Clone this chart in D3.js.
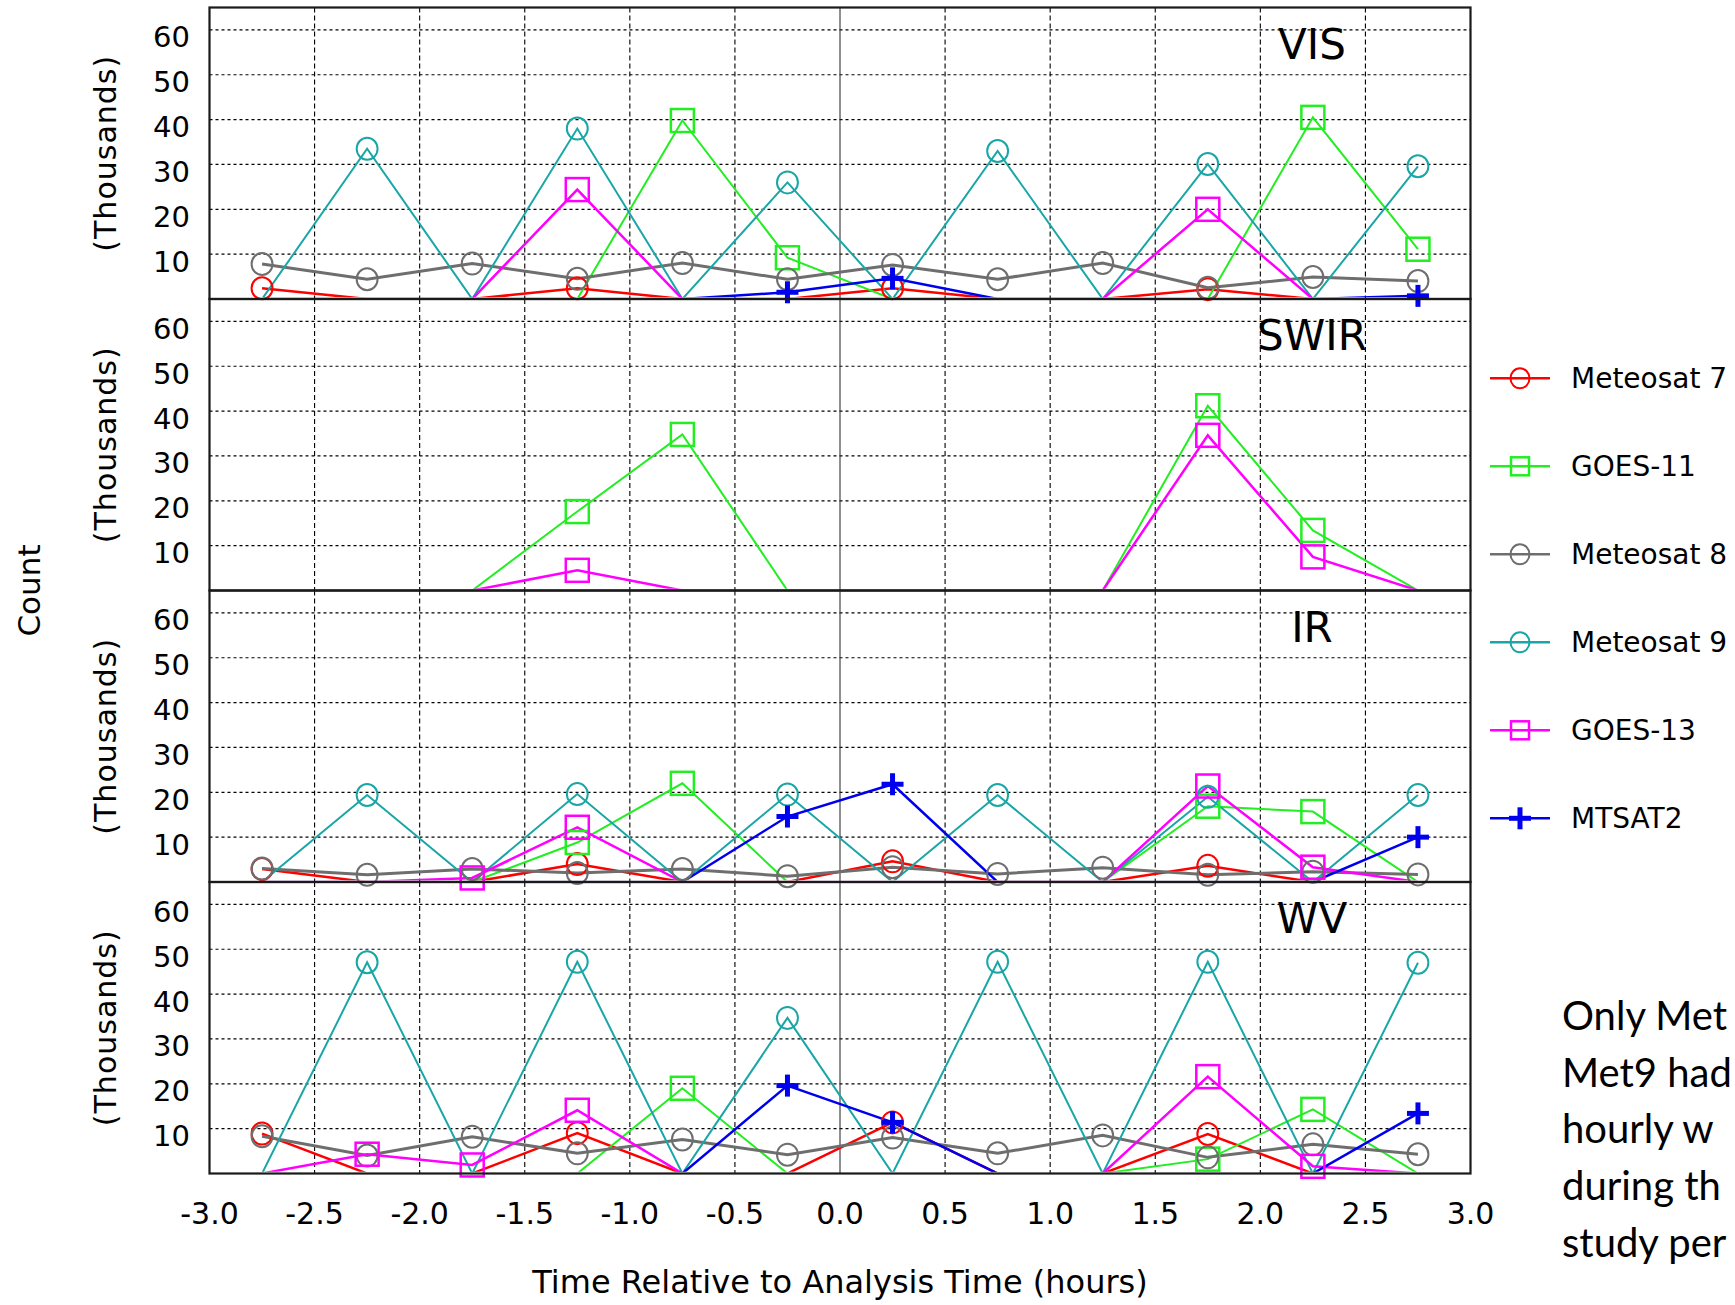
<!DOCTYPE html>
<html>
<head>
<meta charset="utf-8">
<script src="https://cdn.jsdelivr.net/npm/d3@7"></script>
<style>
  body { margin: 0; background: #fff; }
  svg { display: block; }
</style>
</head>
<body>
<svg id="chart" width="1735" height="1305"></svg>
<script>
// time bins (hours relative to analysis time)
const time_points = [-2.75, -2.25, -1.75, -1.25, -0.75, -0.25, 0.25, 0.75, 1.25, 1.75, 2.25, 2.75];
const x_ticks = [-3.0, -2.5, -2.0, -1.5, -1.0, -0.5, 0.0, 0.5, 1.0, 1.5, 2.0, 2.5, 3.0];
const y_ticks = [10, 20, 30, 40, 50, 60];
const panel_names = ["VIS", "SWIR", "IR", "WV"];
const series_names = ["Meteosat 7", "GOES-11", "Meteosat 8", "Meteosat 9", "GOES-13", "MTSAT2"];
const note_lines = ["Only Met", "Met9 had", "hourly w", "during th", "study per"];

// counts in thousands, one row per series (same order as series_names)
const vis_counts = [
    [2.4, 0, 0, 2.4, 0, 0, 2.4, 0, 0, 2.2, 0, 0],
    [0, 0, 0, 0, 39.8, 9.2, 0, 0, 0, 0, 40.5, 11.1],
    [7.8, 4.4, 7.9, 4.5, 8.0, 4.4, 7.6, 4.4, 8.0, 2.5, 4.9, 4.0],
    [0, 33.5, 0, 38.0, 0, 26.0, 0, 33.0, 0, 30.1, 0, 29.6],
    [0, 0, 0, 24.4, 0, 0, 0, 0, 0, 20.0, 0, 0],
    [0, 0, 0, 0, 0, 1.5, 4.6, 0, 0, 0, 0, 0.7]
];
const swir_counts = [
    [0, 0, 0, 0, 0, 0, 0, 0, 0, 0, 0, 0],
    [0, 0, 0, 17.6, 34.8, 0, 0, 0, 0, 41.2, 13.4, 0],
    [0, 0, 0, 0, 0, 0, 0, 0, 0, 0, 0, 0],
    [0, 0, 0, 0, 0, 0, 0, 0, 0, 0, 0, 0],
    [0, 0, 0, 4.5, 0, 0, 0, 0, 0, 34.6, 7.5, 0],
    [0, 0, 0, 0, 0, 0, 0, 0, 0, 0, 0, 0]
];
const ir_counts = [
    [2.9, 0, 0, 4.0, 0, 0, 4.6, 0, 0, 3.6, 0, 0],
    [0, 0, 0, 8.8, 22.0, 0, 0, 0, 0, 16.9, 15.7, 0],
    [3.0, 1.6, 2.9, 2.0, 2.9, 1.3, 3.3, 1.8, 3.2, 1.6, 2.3, 1.7],
    [0, 19.4, 0, 19.6, 0, 19.5, 0, 19.4, 0, 19.0, 0, 19.4],
    [0, 0, 0.9, 12.2, 0, 0, 0, 0, 0, 21.4, 3.3, 0],
    [0, 0, 0, 0, 0, 14.6, 21.8, 0, 0, 0, 0, 10.0]
];
const wv_counts = [
    [8.9, 0, 0, 9.0, 0, 0, 11.4, 0, 0, 8.8, 0, 0],
    [0, 0, 0, 0, 19.0, 0, 0, 0, 0, 3.2, 14.3, 0],
    [8.3, 4.0, 8.2, 4.5, 7.6, 4.2, 8.0, 4.5, 8.5, 3.6, 6.5, 4.3],
    [0, 47.1, 0, 47.2, 0, 34.7, 0, 47.2, 0, 47.2, 0, 47.0],
    [0, 4.3, 1.9, 14.1, 0, 0, 0, 0, 0, 21.6, 1.6, 0],
    [0, 0, 0, 0, 0, 19.6, 11.4, 0, 0, 0, 0, 13.4]
];
const panel_counts = [vis_counts, swir_counts, ir_counts, wv_counts];

// styling
const series_colors = ["#ff0000", "#22ee22", "#6e6e6e", "#1aa6a6", "#ff00ff", "#0000ee"];
const series_markers = ["circle", "square", "circle", "circle", "square", "plus"];
const series_widths = [2.5, 2, 3, 2, 2.5, 2.5];

const font = "'DejaVu Sans', Verdana, sans-serif";
const plot_left = 209.5, plot_right = 1470.5;
const panel_top0 = 7.5, panel_height = 291.5;

const svg = d3.select("#chart");
svg.append("rect").attr("width", 1735).attr("height", 1305).attr("fill", "#fff");

const x = d3.scaleLinear().domain([-3, 3]).range([plot_left, plot_right]);

function draw_marker( g, kind, cx, cy, color, size ) {
    if (kind === "circle") {
        g.append("ellipse").attr("cx", cx).attr("cy", cy)
            .attr("rx", size * 0.95).attr("ry", size)
            .attr("fill", "none").attr("stroke", color).attr("stroke-width", 2);
    } else if (kind === "square") {
        g.append("rect").attr("x", cx - size).attr("y", cy - size)
            .attr("width", size * 2).attr("height", size * 2)
            .attr("fill", "none").attr("stroke", color).attr("stroke-width", 2.5);
    } else {
        g.append("line").attr("x1", cx - size).attr("x2", cx + size).attr("y1", cy).attr("y2", cy)
            .attr("stroke", color).attr("stroke-width", 5);
        g.append("line").attr("x1", cx).attr("x2", cx).attr("y1", cy - size).attr("y2", cy + size)
            .attr("stroke", color).attr("stroke-width", 5);
    }
}

function plot_panel( i ) {
    const top = panel_top0 + i * panel_height;
    const bottom = top + panel_height;
    const y = d3.scaleLinear().domain([0, 65]).range([bottom, top]);
    const g = svg.append("g").attr("class", "panel-" + panel_names[i]);

    // clip so that zero-valued stretches sit under the frame
    svg.append("clipPath").attr("id", "clip-" + i)
        .append("rect")
        .attr("x", plot_left).attr("y", top)
        .attr("width", plot_right - plot_left).attr("height", panel_height - 1.7);

    // horizontal grid
    g.selectAll("line.hgrid").data(y_ticks).join("line")
        .attr("class", "hgrid")
        .attr("x1", plot_left).attr("x2", plot_right)
        .attr("y1", d => y(d)).attr("y2", d => y(d))
        .attr("stroke", "#000").attr("stroke-width", 1.2).attr("stroke-dasharray", "3,3");

    // vertical grid, solid at zero
    g.selectAll("line.vgrid").data(x_ticks.slice(1, -1)).join("line")
        .attr("class", "vgrid")
        .attr("x1", d => x(d)).attr("x2", d => x(d))
        .attr("y1", top).attr("y2", bottom)
        .attr("stroke", d => d === 0 ? "#333" : "#000")
        .attr("stroke-width", 1.1)
        .attr("stroke-dasharray", d => d === 0 ? null : "5,3");

    // y tick labels hang just below their grid line
    g.selectAll("text.ytick").data(y_ticks).join("text")
        .attr("class", "ytick")
        .attr("x", 190).attr("y", d => y(d) + 17.5)
        .attr("text-anchor", "end")
        .attr("font-family", font).attr("font-size", 29)
        .text(d => d);

    // (Thousands) label
    g.append("text")
        .attr("transform", `translate(116,${(top + bottom) / 2}) rotate(-90)`)
        .attr("text-anchor", "middle")
        .attr("font-family", font).attr("font-size", 30)
        .attr("letter-spacing", 1)
        .text("(Thousands)");

    // series lines and markers
    const line = d3.line().x((d, j) => x(time_points[j])).y(d => y(d));
    const lines = g.append("g").attr("clip-path", `url(#clip-${i})`);
    panel_counts[i].forEach((values, s) => {
        lines.append("path")
            .attr("d", line(values))
            .attr("fill", "none")
            .attr("stroke", series_colors[s])
            .attr("stroke-width", series_widths[s])
            .attr("stroke-linejoin", "miter");
    });
    panel_counts[i].forEach((values, s) => {
        values.forEach((v, j) => {
            if (v > 0) {
                const size = series_markers[s] === "square" ? 11.5 : 11;
                draw_marker(g, series_markers[s], x(time_points[j]), y(v), series_colors[s], size);
            }
        });
    });

    // frame
    g.append("rect")
        .attr("x", plot_left).attr("y", top)
        .attr("width", plot_right - plot_left).attr("height", panel_height)
        .attr("fill", "none").attr("stroke", "#1a1a1a").attr("stroke-width", 2.2);

    // panel title
    g.append("text")
        .attr("x", 1312).attr("y", top + 51)
        .attr("text-anchor", "middle")
        .attr("font-family", font).attr("font-size", 42)
        .text(panel_names[i]);
}

panel_names.forEach((name, i) => plot_panel(i));

// x tick labels (plain hyphen for negatives)
const axis_bottom = panel_top0 + 4 * panel_height;
svg.selectAll("text.xtick").data(x_ticks).join("text")
    .attr("class", "xtick")
    .attr("x", d => x(d)).attr("y", axis_bottom + 50)
    .attr("text-anchor", "middle")
    .attr("font-family", font).attr("font-size", 30)
    .text(d => d.toFixed(1));

svg.append("text")
    .attr("x", x(0)).attr("y", 1293)
    .attr("text-anchor", "middle")
    .attr("font-family", font).attr("font-size", 32)
    .text("Time Relative to Analysis Time (hours)");

svg.append("text")
    .attr("transform", `translate(40,${(panel_top0 + axis_bottom) / 2}) rotate(-90)`)
    .attr("text-anchor", "middle")
    .attr("font-family", font).attr("font-size", 31)
    .text("Count");

// legend
const legend = svg.append("g").attr("class", "legend");
series_names.forEach((name, s) => {
    const ly = 378.3 + s * 88;
    legend.append("line")
        .attr("x1", 1490).attr("x2", 1550).attr("y1", ly).attr("y2", ly)
        .attr("stroke", series_colors[s]).attr("stroke-width", 2.5);
    const size = series_markers[s] === "square" ? 9 : (series_markers[s] === "plus" ? 11 : 10);
    draw_marker(legend, series_markers[s], 1520, ly, series_colors[s], size);
    legend.append("text")
        .attr("x", 1571).attr("y", ly).attr("dy", "0.36em")
        .attr("font-family", font).attr("font-size", 28)
        .text(name);
});

// side note, as much of it as the reference shows
svg.selectAll("text.note").data(note_lines).join("text")
    .attr("class", "note")
    .attr("x", 1562).attr("y", (d, k) => 1030 + k * 56.7)
    .attr("font-family", "Lato, 'Open Sans', sans-serif").attr("font-size", 40)
    .text(d => d);
</script>
</body>
</html>
